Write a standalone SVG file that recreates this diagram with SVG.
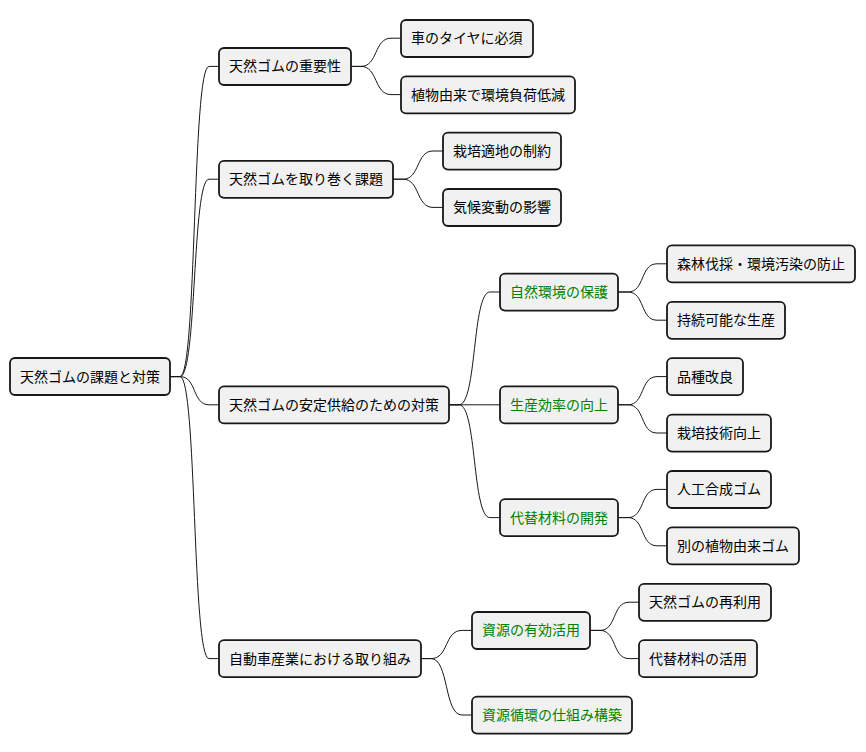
<svg xmlns="http://www.w3.org/2000/svg" width="866" height="752" viewBox="0 0 866 752">
<style>
.n rect{fill:#f1f1f1;stroke:#181818;stroke-width:1.8}
.n text{font-family:"Noto Sans CJK JP","Noto Sans",sans-serif;font-size:14px;fill:#000;dominant-baseline:central}
.g text{fill:#008000}
#edges path{fill:none;stroke:#181818;stroke-width:1}
</style>
<rect width="866" height="752" fill="#fff"/>
<g id="edges">
<path d="M170,376.6 L180,376.6 C197,376.6 192,66.4 209,66.4 L219,66.4"/>
<path d="M170,376.6 L180,376.6 C197,376.6 192,179.2 209,179.2 L219,179.2"/>
<path d="M170,376.6 L180,376.6 C197,376.6 192,404.8 209,404.8 L219,404.8"/>
<path d="M170,376.6 L180,376.6 C197,376.6 192,658.6 209,658.6 L219,658.6"/>
<path d="M351,66.4 L361,66.4 C378,66.4 374,38.2 391,38.2 L401,38.2"/>
<path d="M351,66.4 L361,66.4 C378,66.4 374,94.6 391,94.6 L401,94.6"/>
<path d="M393,179.2 L403,179.2 C420,179.2 416,151 433,151 L443,151"/>
<path d="M393,179.2 L403,179.2 C420,179.2 416,207.4 433,207.4 L443,207.4"/>
<path d="M449,404.8 L459,404.8 C477,404.8 472,292 490,292 L500,292"/>
<path d="M449,404.8 L459,404.8 C477,404.8 472,404.8 490,404.8 L500,404.8"/>
<path d="M449,404.8 L459,404.8 C477,404.8 472,517.6 490,517.6 L500,517.6"/>
<path d="M618,292 L628,292 C645,292 640,263.8 657,263.8 L667,263.8"/>
<path d="M618,292 L628,292 C645,292 640,320.2 657,320.2 L667,320.2"/>
<path d="M618,404.8 L628,404.8 C645,404.8 640,376.6 657,376.6 L667,376.6"/>
<path d="M618,404.8 L628,404.8 C645,404.8 640,433 657,433 L667,433"/>
<path d="M618,517.6 L628,517.6 C645,517.6 640,489.4 657,489.4 L667,489.4"/>
<path d="M618,517.6 L628,517.6 C645,517.6 640,545.8 657,545.8 L667,545.8"/>
<path d="M421,658.6 L431,658.6 C449,658.6 444,630.4 462,630.4 L472,630.4"/>
<path d="M421,658.6 L431,658.6 C449,658.6 444,715 462,715 L472,715"/>
<path d="M590,630.4 L600,630.4 C617,630.4 612,602.2 629,602.2 L639,602.2"/>
<path d="M590,630.4 L600,630.4 C617,630.4 612,658.6 629,658.6 L639,658.6"/>
</g>
<g id="root" class="n"><rect x="10" y="358" width="160" height="37" rx="5"/><text x="20" y="375.6">天然ゴムの課題と対策</text></g>
<g id="n1" class="n"><rect x="219" y="48" width="132" height="37" rx="5"/><text x="229" y="65.4">天然ゴムの重要性</text></g>
<g id="n1a" class="n"><rect x="401" y="20" width="132" height="37" rx="5"/><text x="411" y="37.2">車のタイヤに必須</text></g>
<g id="n1b" class="n"><rect x="401" y="76.4" width="174" height="37" rx="5"/><text x="411" y="93.6">植物由来で環境負荷低減</text></g>
<g id="n2" class="n"><rect x="219" y="160.8" width="174" height="37" rx="5"/><text x="229" y="178.2">天然ゴムを取り巻く課題</text></g>
<g id="n2a" class="n"><rect x="443" y="132.6" width="118" height="37" rx="5"/><text x="453" y="150">栽培適地の制約</text></g>
<g id="n2b" class="n"><rect x="443" y="189" width="118" height="37" rx="5"/><text x="453" y="206.4">気候変動の影響</text></g>
<g id="n3" class="n"><rect x="219" y="386.4" width="230" height="37" rx="5"/><text x="229" y="403.8">天然ゴムの安定供給のための対策</text></g>
<g id="n3a" class="n g"><rect x="500" y="273.6" width="118" height="37" rx="5"/><text x="510" y="291">自然環境の保護</text></g>
<g id="n3a1" class="n"><rect x="667" y="245.4" width="188" height="37" rx="5"/><text x="677" y="262.8">森林伐採・環境汚染の防止</text></g>
<g id="n3a2" class="n"><rect x="667" y="301.8" width="118" height="37" rx="5"/><text x="677" y="319.2">持続可能な生産</text></g>
<g id="n3b" class="n g"><rect x="500" y="386.4" width="118" height="37" rx="5"/><text x="510" y="403.8">生産効率の向上</text></g>
<g id="n3b1" class="n"><rect x="667" y="358.2" width="76" height="37" rx="5"/><text x="677" y="375.6">品種改良</text></g>
<g id="n3b2" class="n"><rect x="667" y="414.6" width="104" height="37" rx="5"/><text x="677" y="432">栽培技術向上</text></g>
<g id="n3c" class="n g"><rect x="500" y="499.2" width="118" height="37" rx="5"/><text x="510" y="516.6">代替材料の開発</text></g>
<g id="n3c1" class="n"><rect x="667" y="471" width="104" height="37" rx="5"/><text x="677" y="488.4">人工合成ゴム</text></g>
<g id="n3c2" class="n"><rect x="667" y="527.4" width="132" height="37" rx="5"/><text x="677" y="544.8">別の植物由来ゴム</text></g>
<g id="n4" class="n"><rect x="219" y="640.2" width="202" height="37" rx="5"/><text x="229" y="657.6">自動車産業における取り組み</text></g>
<g id="n4a" class="n g"><rect x="472" y="612" width="118" height="37" rx="5"/><text x="482" y="629.4">資源の有効活用</text></g>
<g id="n4a1" class="n"><rect x="639" y="583.8" width="132" height="37" rx="5"/><text x="649" y="601.2">天然ゴムの再利用</text></g>
<g id="n4a2" class="n"><rect x="639" y="640.2" width="118" height="37" rx="5"/><text x="649" y="657.6">代替材料の活用</text></g>
<g id="n4b" class="n g"><rect x="472" y="696.6" width="160" height="37" rx="5"/><text x="482" y="714">資源循環の仕組み構築</text></g>
</svg>
